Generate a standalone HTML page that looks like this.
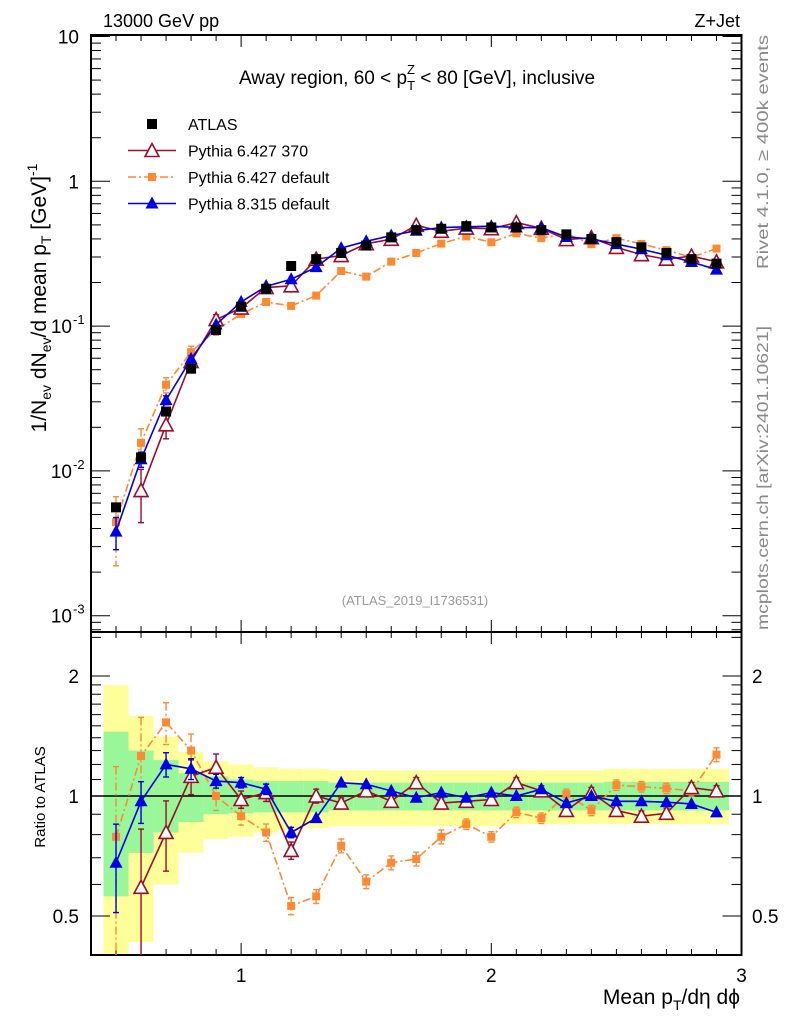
<!DOCTYPE html>
<html><head><meta charset="utf-8"><style>
body{margin:0;background:#fff;}
svg{display:block;font-family:"Liberation Sans",sans-serif;}
</style></head><body>
<svg id="c" width="786" height="1024" viewBox="0 0 786 1024">
<g id="bands"></g>
<g id="axes"></g>
<g id="marks"></g>
<text x="103" y="27" font-size="18">13000 GeV pp</text>
<text x="740" y="27" font-size="18" text-anchor="end">Z+Jet</text>
<text x="417" y="84" font-size="19" text-anchor="middle">Away region, 60 &lt; p<tspan font-size="13" dy="6">T</tspan><tspan font-size="13" dx="-8" dy="-16">Z</tspan><tspan dy="10"> &lt; 80 [GeV], inclusive</tspan></text>
<text x="415" y="605" font-size="13" fill="#999" text-anchor="middle">(ATLAS_2019_I1736531)</text>
<text transform="translate(768,152) rotate(-90)" font-size="16" fill="#888" text-anchor="middle" textLength="234" lengthAdjust="spacingAndGlyphs">Rivet 4.1.0, ≥ 400k events</text>
<text transform="translate(768,478) rotate(-90)" font-size="16" fill="#888" text-anchor="middle" textLength="304" lengthAdjust="spacingAndGlyphs">mcplots.cern.ch [arXiv:2401.10621]</text>
<text transform="translate(46,298) rotate(-90)" font-size="21" text-anchor="middle">1/N<tspan font-size="14" dy="5">ev</tspan><tspan dy="-5"> dN</tspan><tspan font-size="14" dy="5">ev</tspan><tspan dy="-5">/d mean p</tspan><tspan font-size="14" dy="5">T</tspan><tspan dy="-5"> [GeV]</tspan><tspan font-size="14" dy="-9">-1</tspan></text>
<text transform="translate(45,797) rotate(-90)" font-size="15" text-anchor="middle">Ratio to ATLAS</text>
<text x="740" y="1004" font-size="21" text-anchor="end">Mean p<tspan font-size="14" dy="6">T</tspan><tspan dy="-6">/dη dϕ</tspan></text>
<g id="legend"></g>
</svg>
<script>
const xs=[0.5,0.6,0.7,0.8,0.9,1.0,1.1,1.2,1.3,1.4,1.5,1.6,1.7,1.8,1.9,2.0,2.1,2.2,2.3,2.4,2.5,2.6,2.7,2.8,2.9];
const atlas=[0.0056,0.0124,0.0257,0.0508,0.094,0.136,0.181,0.26,0.29,0.32,0.36,0.41,0.46,0.47,0.49,0.48,0.48,0.46,0.43,0.40,0.38,0.35,0.32,0.29,0.27];
const ratioP6_370=[null,0.59,0.81,1.12,1.18,0.98,1.02,0.73,1.0,0.96,1.03,0.97,1.08,0.96,0.97,0.98,1.08,1.03,0.92,1.02,0.92,0.89,0.905,1.05,1.03];
const ratioP6def=[0.79,1.26,1.53,1.30,1.0,0.89,0.81,0.53,0.56,0.75,0.61,0.68,0.695,0.79,0.85,0.79,0.91,0.88,1.01,0.92,1.065,1.055,1.045,1.03,1.27];
const ratioP8=[0.68,0.97,1.20,1.17,1.09,1.08,1.04,0.81,0.88,1.08,1.07,1.03,0.99,1.02,0.99,1.02,1.0,1.04,0.96,1.0,0.97,0.97,0.965,0.955,0.91];
const errP6_370=[0,0.4,0.2,0.1,0.08,0.05,0.05,0.05,0.04,0.03,0.03,0.03,0.03,0.03,0.03,0.03,0.03,0.03,0.03,0.03,0.03,0.03,0.03,0.03,0.03];
const errP6def=[0.5,0.25,0.12,0.1,0.08,0.05,0.05,0.05,0.04,0.04,0.04,0.04,0.04,0.04,0.03,0.03,0.03,0.03,0.03,0.03,0.03,0.03,0.03,0.03,0.04];
const errP8=[0.25,0.12,0.07,0.06,0.04,0.03,0.03,0.03,0.02,0.02,0.02,0.02,0.02,0.02,0.02,0.02,0.02,0.02,0.02,0.02,0.02,0.02,0.02,0.02,0.02];
const yellowHi=[1.9,1.59,1.41,1.29,1.22,1.2,1.18,1.17,1.17,1.16,1.16,1.16,1.16,1.16,1.16,1.16,1.16,1.16,1.16,1.16,1.17,1.17,1.17,1.17,1.17];
const yellowLo=[0.4,0.43,0.60,0.72,0.78,0.79,0.81,0.82,0.83,0.84,0.84,0.84,0.84,0.84,0.84,0.84,0.85,0.85,0.85,0.85,0.85,0.85,0.85,0.85,0.85];
const greenHi=[1.45,1.30,1.23,1.14,1.12,1.10,1.09,1.09,1.09,1.08,1.08,1.08,1.08,1.08,1.08,1.08,1.08,1.08,1.08,1.08,1.085,1.085,1.085,1.085,1.085];
const greenLo=[0.56,0.72,0.81,0.86,0.9,0.905,0.91,0.91,0.91,0.92,0.92,0.92,0.92,0.92,0.92,0.92,0.92,0.92,0.92,0.92,0.92,0.92,0.92,0.92,0.92];
const xTicks=[1,2,3];
const ratioTicks=[0.5,1,2];

const NS='http://www.w3.org/2000/svg';
const L=91,R=741.5,T=35,MB=632,RB=955;
const X=v=>L+(v-0.4)*(R-L)/2.6;
const Y=v=>36.5-(Math.log10(v)-1)*144.8;
const YR=v=>796-Math.log2(v)*120;
function mk(tag,at,parent){const e=document.createElementNS(NS,tag);for(const k in at)e.setAttribute(k,at[k]);document.getElementById(parent).appendChild(e);return e;}
const RED='#9b0d2a',ORA='#ff8833',BLU='#0000e6';

for(let i=0;i<xs.length;i++){
  const x0=X(xs[i]-0.05),x1=X(xs[i]+0.05);
  const yb=mk('rect',{x:x0,y:Math.max(YR(yellowHi[i]),MB),width:x1-x0,height:Math.min(YR(yellowLo[i]),RB)-Math.max(YR(yellowHi[i]),MB),fill:'#ffff99'},'bands');
  
  
  const gb=mk('rect',{x:x0,y:YR(greenHi[i]),width:x1-x0,height:YR(greenLo[i])-YR(greenHi[i]),fill:'#99f799'},'bands');
  
  
}
for(const [t,b] of [[T,MB],[MB,RB]]){
  const f=mk('rect',{x:L,y:t,width:R-L,height:b-t,fill:'none',stroke:'#000','stroke-width':2},'axes');
  
  
}
const one=mk('line',{x1:L,x2:R,y1:YR(1),y2:YR(1),stroke:'#000','stroke-width':1.5},'axes');


function tk(x1,y1,x2,y2){mk('line',{x1,y1,x2,y2,stroke:'#000','stroke-width':1},'axes');}
for(let k=5;k<=29;k++){const v=k/10,x=X(v),maj=(k%10===0),len=maj?12:6;
  for(const [t,b] of [[T,MB],[MB,RB]]){tk(x,b,x,b-len);tk(x,t,x,t+len);}}
xTicks.forEach(v=>{const t=mk('text',{x:X(v),y:982,'font-size':19,'text-anchor':'middle'},'axes');t.textContent=v;
 
 });
for(let d=-4;d<=1;d++){for(let m=1;m<10;m++){const v=m*Math.pow(10,d);const y=Y(v);if(y<T||y>MB)continue;const len=m===1?19:10;tk(L,y,L+len,y);tk(R,y,R-len,y);}}
[[10,'10',''],[1,'1',''],[0.1,'10','-1'],[0.01,'10','-2'],[0.001,'10','-3']].forEach(([v,b,e])=>{
 const t=mk('text',{x:e?72:79,y:Y(v)+7,'font-size':19,'text-anchor':'end'},'axes');t.textContent=b;
 
 
 if(e){const s=mk('text',{x:73,y:Y(v)-2,'font-size':13},'axes');s.textContent=e;}});
[0.4,0.5,0.6,0.7,0.8,0.9,1,1.1,1.2,1.3,1.4,1.5,1.6,1.7,1.8,1.9,2,2.5].forEach(v=>{const y=YR(v);if(y<MB||y>RB)return;const len=ratioTicks.includes(v)?19:10;tk(L,y,L+len,y);tk(R,y,R-len,y);});
ratioTicks.forEach(v=>{for(const [x,a] of [[79,'end'],[752,'start']]){const t=mk('text',{x,y:YR(v)+7,'font-size':19,'text-anchor':a},'axes');t.textContent=v;
 
 }});

function marker(type,x,y,g,name){let e;
 if(type==='sqB'){e=mk('rect',{x:x-5,y:y-5,width:10,height:10,fill:'#000'},g);}
 else if(type==='sqO'){e=mk('rect',{x:x-4,y:y-4,width:8,height:8,fill:ORA},g);}
 else if(type==='triR'){e=mk('polygon',{points:`${x},${y-7} ${x-7},${y+6} ${x+7},${y+6}`,fill:'#fff',stroke:RED,'stroke-width':1.6},g);}
 else {e=mk('polygon',{points:`${x},${y-7} ${x-6.5},${y+5} ${x+6.5},${y+5}`,fill:BLU},g);}
 
 }
function series(ratio,err,color,dash,type,name){
 const main=[],rat=[];
 ratio.forEach((r,i)=>{if(r==null)return;main.push([X(xs[i]),Y(atlas[i]*r),Y(atlas[i]*r*(1+err[i])),Y(Math.max(atlas[i]*r*(1-err[i]),1e-4))]);
  rat.push([X(xs[i]),YR(r),YR(r*(1+err[i])),YR(Math.max(r*(1-err[i]),0.3))]);});
 for(const pts of [main,rat]){
  const top=pts===main?T:MB,bot=pts===main?MB:RB;
  const p=mk('polyline',{points:pts.map(q=>q[0]+','+q[1]).join(' '),fill:'none',stroke:color,'stroke-width':1.6,'stroke-dasharray':dash},'marks');
  
  
  pts.forEach(q=>{if(Math.abs(q[2]-q[3])>8){mk('line',{x1:q[0],x2:q[0],y1:Math.max(q[2],top),y2:Math.min(q[3],bot),stroke:color,'stroke-width':1.4,'stroke-dasharray':dash},'marks');
   if(q[2]>top)mk('line',{x1:q[0]-3,x2:q[0]+3,y1:q[2],y2:q[2],stroke:color,'stroke-width':1.4},'marks');
   if(q[3]<bot)mk('line',{x1:q[0]-3,x2:q[0]+3,y1:q[3],y2:q[3],stroke:color,'stroke-width':1.4},'marks');}
   marker(type,q[0],q[1],'marks',name+'-point');});
 }}
series(ratioP6def,errP6def,ORA,'8,3,2,3','sqO','pythia6-default');
series(ratioP6_370,errP6_370,RED,'','triR','pythia6-370');
series(ratioP8,errP8,BLU,'','triB','pythia8');
atlas.forEach((v,i)=>marker('sqB',X(xs[i]),Y(v),'marks','atlas-point'));

const leg=[['ATLAS','sqB',null,''],['Pythia 6.427 370','triR',RED,''],['Pythia 6.427 default','sqO',ORA,'8,3,2,3'],['Pythia 8.315 default','triB',BLU,'']];
leg.forEach((l,i)=>{const y=124+i*26.5;
 if(l[2]){const ln=mk('line',{x1:128,x2:176,y1:y,y2:y,stroke:l[2],'stroke-width':1.6,'stroke-dasharray':l[3]},'legend');
  
  }
 marker(l[1],152,y,'legend','legend-marker');
 const t=mk('text',{x:188,y:y+6,'font-size':16},'legend');t.textContent=l[0];
 
 });
</script>
</body></html>
